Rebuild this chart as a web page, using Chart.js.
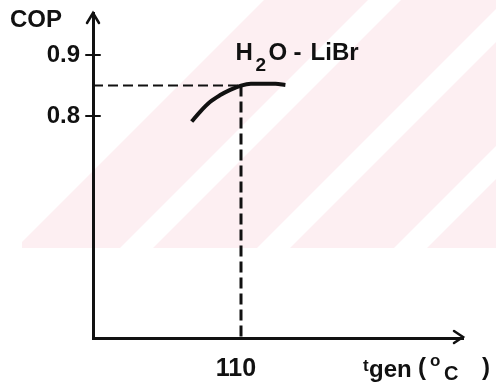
<!DOCTYPE html>
<html lang="en">
<head>
<meta charset="UTF-8">
<title>COP vs generator temperature</title>
<script src="https://cdn.jsdelivr.net/npm/chart.js"></script>
<style>
    body {
        margin: 0;
        padding: 0;
        background: #fff;
    }
</style>
</head>
<body>
<canvas id="copChart" width="496" height="386"></canvas>
<script>
    // values
    const tGen = [100, 101.7, 103.7, 105.7, 107.8, 110, 112, 117, 119];
    const cop = [0.791, 0.807, 0.823, 0.834, 0.843, 0.85, 0.853, 0.853, 0.851];
    const refT = 110;
    const refCop = 0.85;
    const xTicks = [110];
    const yTicks = [0.8, 0.9];
    const xRange = [80, 155];
    const yRange = [0.436, 0.969];

    const ink = '#111';
    const family = '"Liberation Sans", Arial, sans-serif';
    const font = s => 'bold ' + s + 'px ' + family;

    function text(ctx, str, x, y, size) {
        ctx.font = font(size);
        ctx.fillText(str, x, y);
    }

    const sketch = {
        id: 'sketch',
        beforeDraw(chart) {
            // faint pink watermark behind the plot
            const ctx = chart.ctx;
            ctx.save();
            ctx.fillStyle = '#fff';
            ctx.fillRect(0, 0, chart.width, chart.height);
            ctx.beginPath();
            ctx.rect(22, 0, chart.width - 22, 248);
            ctx.clip();
            ctx.fillStyle = '#fdeff2';
            ctx.beginPath();
            ctx.moveTo(264, 0);
            ctx.lineTo(chart.width, 0);
            ctx.lineTo(chart.width, 248);
            ctx.lineTo(16, 248);
            ctx.closePath();
            ctx.fill();
            ctx.fillStyle = '#fff';
            [368, 505, 642].forEach(c => {
                ctx.beginPath();
                ctx.moveTo(c, 0);
                ctx.lineTo(c + 33, 0);
                ctx.lineTo(c + 33 - 248, 248);
                ctx.lineTo(c - 248, 248);
                ctx.closePath();
                ctx.fill();
            });
            ctx.restore();
        },
        afterDraw(chart) {
            const ctx = chart.ctx;
            const {left, right, top, bottom} = chart.chartArea;
            const x = chart.scales.x, y = chart.scales.y;
            ctx.save();
            ctx.strokeStyle = ink;
            ctx.fillStyle = ink;
            ctx.lineWidth = 2.5;
            ctx.lineCap = 'round';

            // arrow heads
            ctx.beginPath();
            ctx.moveTo(left - 6, top + 10);
            ctx.lineTo(left, top);
            ctx.lineTo(left + 6, top + 10);
            ctx.moveTo(right - 9, bottom - 7);
            ctx.lineTo(right, bottom - 1);
            ctx.lineTo(right - 9, bottom + 5);
            ctx.stroke();

            // tick crosses on the y axis
            ctx.lineWidth = 2;
            yTicks.forEach(v => {
                const py = y.getPixelForValue(v);
                ctx.beginPath();
                ctx.moveTo(left - 7, py);
                ctx.lineTo(left + 7, py);
                ctx.stroke();
            });

            ctx.textBaseline = 'alphabetic';
            // y title
            text(ctx, 'COP', left - 83, top + 14, 24);

            // x title: t_gen ( °C )
            const bx = right - 100, by = bottom + 39;
            text(ctx, 't', bx, by - 6, 17);
            text(ctx, 'gen', bx + 6, by, 24);
            text(ctx, '(', bx + 55, by - 2, 24);
            text(ctx, 'o', bx + 67, by - 11, 17);
            text(ctx, 'C', bx + 81, by + 3, 20);
            text(ctx, ')', bx + 119, by - 2, 24);

            // series label H2O - LiBr
            const lx = x.getPixelForValue(108.9), ly = y.getPixelForValue(0.892);
            text(ctx, 'H', lx, ly, 24);
            text(ctx, '2', lx + 20, ly + 11, 19);
            text(ctx, 'O', lx + 33, ly, 24);
            text(ctx, '-', lx + 58, ly, 24);
            text(ctx, 'LiBr', lx + 75, ly, 24);
            ctx.restore();
        }
    };

    const ctx = document.getElementById('copChart').getContext('2d');
    new Chart(ctx, {
        type: 'line',
        data: {
            datasets: [{
                label: 'H2O - LiBr',
                data: tGen.map((t, i) => ({x: t, y: cop[i]})),
                borderColor: ink,
                borderWidth: 4,
                pointRadius: 0,
                cubicInterpolationMode: 'monotone',
                fill: false
            }, {
                label: 'ref cop',
                data: [{x: xRange[0], y: refCop}, {x: refT, y: refCop}],
                borderColor: ink,
                borderWidth: 2,
                borderDash: [10, 5],
                pointRadius: 0
            }, {
                label: 'ref t',
                data: [{x: refT, y: refCop}, {x: refT, y: yRange[0]}],
                borderColor: ink,
                borderWidth: 3,
                borderDash: [11, 5],
                pointRadius: 0
            }]
        },
        options: {
            responsive: false,
            animation: false,
            layout: {padding: {left: 0, top: 13, right: 33, bottom: 0}},
            plugins: {
                legend: {display: false},
                tooltip: {enabled: false}
            },
            scales: {
                x: {
                    type: 'linear',
                    min: xRange[0],
                    max: xRange[1],
                    afterBuildTicks: s => { s.ticks = xTicks.map(v => ({value: v})); },
                    afterFit: s => { s.height = 48; s.paddingLeft = 0; s.paddingRight = 0; },
                    grid: {display: false, drawTicks: false},
                    border: {display: true, color: ink, width: 3},
                    ticks: {
                        color: ink,
                        padding: 16,
                        labelOffset: -5,
                        font: {family: family, size: 25, weight: 'bold'}
                    }
                },
                y: {
                    type: 'linear',
                    min: yRange[0],
                    max: yRange[1],
                    afterBuildTicks: s => { s.ticks = yTicks.map(v => ({value: v})); },
                    afterFit: s => { s.width = 93; s.paddingTop = 0; s.paddingBottom = 0; },
                    grid: {display: false, drawTicks: false},
                    border: {display: true, color: ink, width: 3},
                    ticks: {
                        color: ink,
                        padding: 13,
                        callback: v => v.toFixed(1),
                        font: {family: family, size: 24, weight: 'bold'}
                    }
                }
            }
        },
        plugins: [sketch]
    });
</script>
</body>
</html>
